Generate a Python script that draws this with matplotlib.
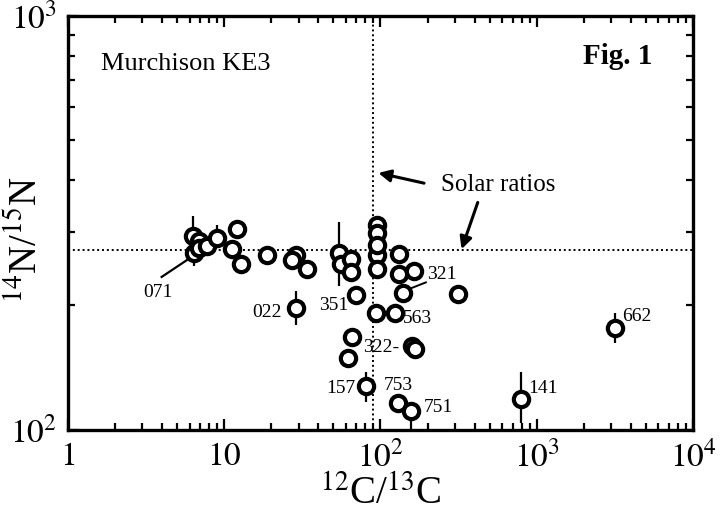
import numpy as np
import matplotlib
matplotlib.use("Agg")
import matplotlib.pyplot as plt
from matplotlib.ticker import NullFormatter

plt.rcParams['font.family'] = ['Liberation Serif', 'DejaVu Serif']
plt.rcParams['mathtext.fontset'] = 'stix'

# grain data: 12C/13C, 14N/15N, error bar top / bottom (nan = bar hidden by marker)
c_ratio = [6.28, 6.95, 6.43, 6.93, 7.81, 8.95, 12.05, 11.3, 12.8, 18.9,
           28.9, 27.2, 33.9, 28.8, 54.6, 56.0, 64.9, 64.7, 70.1, 95.1,
           94.8, 95.5, 94.4, 95.1, 132, 131, 164, 140, 93.6, 124,
           315, 66.0, 61.8, 159, 166, 81.0, 129, 156, 793, 3160]
n_ratio = [294, 286, 268, 275, 278, 290, 306, 274, 252, 264,
           264, 257, 244, 197, 268, 251, 258, 240, 212, 312,
           298, 264, 279, 245, 266, 238, 242, 214, 191, 192,
           213, 168, 149, 159, 157, 128, 116, 111, 119, 176]
err_top = [329, 302, np.nan, np.nan, np.nan, 312, 320, np.nan, np.nan, np.nan,
           np.nan, np.nan, np.nan, 217, 317, np.nan, np.nan, np.nan, np.nan, np.nan,
           np.nan, np.nan, np.nan, np.nan, np.nan, np.nan, np.nan, np.nan, np.nan, np.nan,
           np.nan, np.nan, np.nan, np.nan, np.nan, 138, np.nan, np.nan, 138, 191]
err_bot = [np.nan, np.nan, 249, np.nan, np.nan, np.nan, np.nan, np.nan, np.nan, np.nan,
           np.nan, np.nan, np.nan, 179, 222, np.nan, np.nan, np.nan, np.nan, np.nan,
           np.nan, np.nan, np.nan, np.nan, np.nan, np.nan, np.nan, np.nan, np.nan, np.nan,
           np.nan, np.nan, np.nan, np.nan, np.nan, 117, np.nan, 100, 104, 162]

solar_c = 89
solar_n = 272

# grain names
label_txt = ['071', '022', '351', '321', '563', '322-', '157', '753', '751', '141', '662']
label_x = [3.79, 18.75, 50.5, 247, 173, 101, 56, 130, 236, 1101, 4385]
label_y = [215, 192, 200, 237, 186, 158, 126, 128, 113, 126, 188]

fig = plt.figure(figsize=(7.22, 5.18), dpi=100)
ax = fig.add_axes([0.094, 0.17, 0.866, 0.80])
ax.set_xscale('log')
ax.set_yscale('log')
ax.set_xlim(1, 1e4)
ax.set_ylim(1e2, 1e3)

# solar reference lines
ax.axvline(solar_c, color='k', ls=(0, (1, 1.5)), lw=1.4, zorder=1)
ax.axhline(solar_n, color='k', ls=(0, (1, 1.5)), lw=1.4, zorder=1)

x = np.array(c_ratio)
top = np.array(err_top)
bot = np.array(err_bot)
yv = np.array(n_ratio)
hi = np.where(np.isnan(top), yv, top)
lo = np.where(np.isnan(bot), yv, bot)
ax.vlines(x, lo, hi, color='k', lw=1.6, zorder=2)

ax.plot(c_ratio, n_ratio, 'o', ms=11, mfc='white', mec='k', mew=3.0, zorder=3)

for t, lx, ly in zip(label_txt, label_x, label_y):
    ax.text(lx, ly, t, fontsize=14, ha='center', va='center', zorder=4)

# leader lines for 071 and 321
ax.plot([3.98, 6.05], [234, 260], color='k', lw=1.6, zorder=2)
ax.plot([158, 195], [220, 227], color='k', lw=1.4, zorder=2)

ax.text(0.053, 0.868, 'Murchison KE3', transform=ax.transAxes, fontsize=19,
        ha='left', va='baseline')
ax.text(0.935, 0.901, 'Fig. 1', transform=ax.transAxes, fontsize=21,
        fontweight='bold', ha='right', va='center')
ax.text(0.597, 0.592, 'Solar ratios', transform=ax.transAxes, fontsize=18,
        ha='left', va='center')

arrow = dict(arrowstyle='-|>', color='k', lw=2.2, mutation_scale=18,
             shrinkA=0, shrinkB=0)
ax.annotate('', xy=(96.9, 417), xytext=(190, 394), arrowprops=arrow)
ax.annotate('', xy=(330, 273), xytext=(419, 354), arrowprops=arrow)

ax.set_xticks([1, 10, 100, 1000, 10000])
ax.set_xticklabels(['$1$', '$10$', '$10^{2}$', '$10^{3}$', '$10^{4}$'])
ax.set_yticks([100, 1000])
ax.set_yticklabels(['$10^{2}$', '$10^{3}$'])
ax.xaxis.set_minor_formatter(NullFormatter())
ax.yaxis.set_minor_formatter(NullFormatter())

ax.tick_params(which='both', direction='in', top=True, right=True, width=1.6)
ax.tick_params(which='major', length=8, labelsize=24, pad=8)
ax.tick_params(which='minor', length=5)
for s in ax.spines.values():
    s.set_linewidth(2.4)

ax.set_xlabel('$^{12}$C/$^{13}$C', fontsize=28, labelpad=2)
ax.set_ylabel('$^{14}$N/$^{15}$N', fontsize=28)
ax.yaxis.set_label_coords(-0.035, 0.46)

fig.savefig('out.png', dpi=100)
